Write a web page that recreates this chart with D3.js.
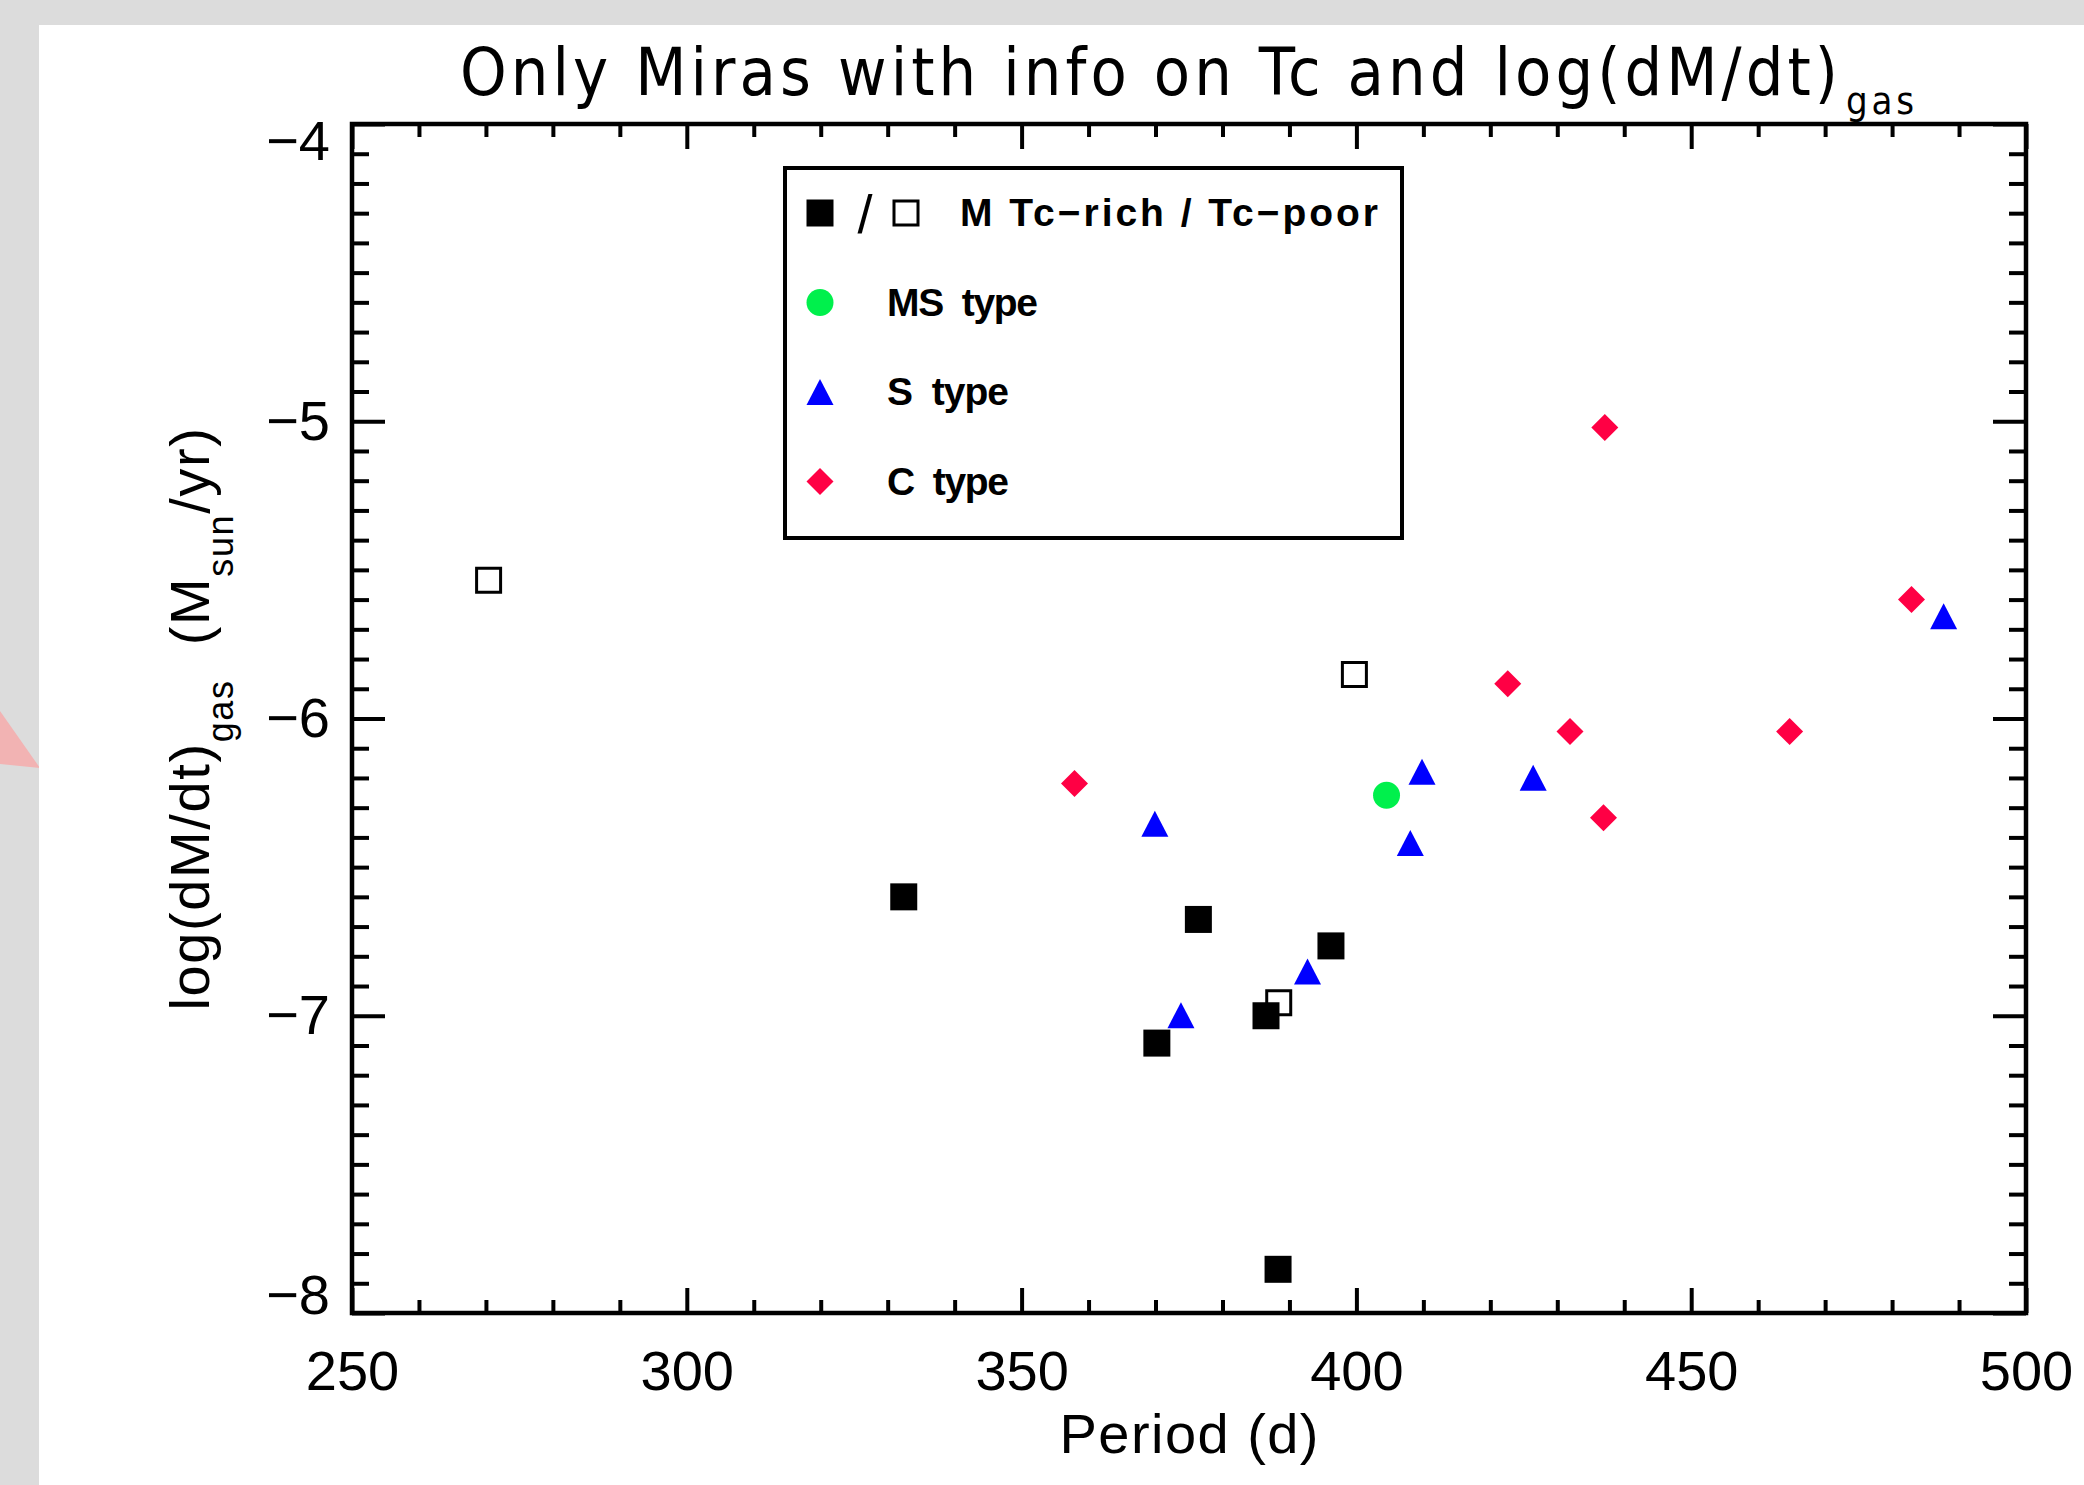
<!DOCTYPE html>
<html>
<head>
<meta charset="utf-8">
<script src="https://cdn.jsdelivr.net/npm/d3@7"></script>
<style>
  html, body { margin: 0; padding: 0; background: #dcdcdc; }
  svg { display: block; }
</style>
</head>
<body>
<svg id="chart" width="2084" height="1485"></svg>
<script>
// M stars, Tc-rich (filled squares) / Tc-poor (open squares)
const mRichPeriod = [332.4, 376.4, 396.2, 386.5, 370.2, 388.3];
const mRichMdot   = [-6.600, -6.676, -6.765, -7.000, -7.092, -7.853];
const mPoorPeriod = [270.4, 399.7, 388.4];
const mPoorMdot   = [-5.535, -5.852, -6.956];
// MS type
const msPeriod = [404.5];
const msMdot   = [-6.258];
// S type
const sPeriod = [369.9, 373.8, 392.7, 409.8, 408.05, 426.4, 487.7];
const sMdot   = [-6.354, -6.998, -6.851, -6.179, -6.419, -6.199, -5.656];
// C type
const cPeriod = [357.9, 422.6, 431.9, 437.1, 436.9, 464.7, 482.9];
const cMdot   = [-6.219, -5.883, -6.044, -5.021, -6.334, -6.044, -5.600];

const xMajorTicks = [250, 300, 350, 400, 450, 500];
const yMajorTicks = [-8, -7, -6, -5, -4];
const legendLabels = ["M Tc\u2212rich / Tc\u2212poor", "MS  type", "S  type", "C  type"];

(function() {
    const svg = d3.select("#chart");
    const left = 352, right = 2026, top = 124, bottom = 1313;

    const x = d3.scaleLinear().domain([250, 500]).range([left, right]);
    const y = d3.scaleLinear().domain([-8, -4]).range([bottom, top]);

    const green = "#00f04c", blue = "#0000ff", red = "#ff0044";

    // page background: grey with a white panel, and the pink wedge at the left
    svg.append("rect").attr("width", 2084).attr("height", 1485).attr("fill", "#dcdcdc");
    svg.append("polygon").attr("points", "0,711 0,764 40,768").attr("fill", "#f2b3b3");
    svg.append("rect").attr("x", 39).attr("y", 25).attr("width", 2084 - 39).attr("height", 1485 - 25).attr("fill", "#fff");

    const xMinorTicks = d3.range(250, 501, 10).filter(v => v % 50 !== 0);
    const yMinorTicks = d3.range(-80, -39).map(v => v / 10).filter(v => !Number.isInteger(v));

    function styleAxis(g) {
        g.attr("font-family", null).attr("font-size", null);
        g.select(".domain").remove();
        g.selectAll(".tick line").attr("stroke", "#000").attr("stroke-width", 4);
    }

    // bottom
    svg.append("g").attr("transform", `translate(0,${bottom})`)
        .call(d3.axisBottom(x).tickValues(xMinorTicks).tickSize(-13).tickFormat(""))
        .call(styleAxis);
    svg.append("g").attr("transform", `translate(0,${bottom})`)
        .call(d3.axisBottom(x).tickValues(xMajorTicks).tickSize(-25).tickPadding(37).tickFormat(d3.format("d")))
        .call(styleAxis)
        .selectAll("text").attr("font-family", "'Liberation Sans', Arial, sans-serif").attr("font-size", 56).attr("fill", "#000");
    // top
    svg.append("g").attr("transform", `translate(0,${top})`)
        .call(d3.axisTop(x).tickValues(xMinorTicks).tickSize(-13).tickFormat(""))
        .call(styleAxis);
    svg.append("g").attr("transform", `translate(0,${top})`)
        .call(d3.axisTop(x).tickValues(xMajorTicks).tickSize(-25).tickFormat(""))
        .call(styleAxis);
    // left
    svg.append("g").attr("transform", `translate(${left},0)`)
        .call(d3.axisLeft(y).tickValues(yMinorTicks).tickSize(-17).tickFormat(""))
        .call(styleAxis);
    svg.append("g").attr("transform", `translate(${left},0)`)
        .call(d3.axisLeft(y).tickValues(yMajorTicks).tickSize(-33).tickPadding(22).tickFormat(d => "\u2212" + Math.abs(d)))
        .call(styleAxis)
        .selectAll("text")
        .attr("font-family", "'Liberation Sans', Arial, sans-serif").attr("font-size", 56).attr("fill", "#000")
        .attr("y", d => d === -4 ? 18 : (d === -8 ? -17 : 0));
    // right
    svg.append("g").attr("transform", `translate(${right},0)`)
        .call(d3.axisRight(y).tickValues(yMinorTicks).tickSize(-17).tickFormat(""))
        .call(styleAxis);
    svg.append("g").attr("transform", `translate(${right},0)`)
        .call(d3.axisRight(y).tickValues(yMajorTicks).tickSize(-33).tickFormat(""))
        .call(styleAxis);

    // frame
    svg.append("rect")
        .attr("x", left).attr("y", top)
        .attr("width", right - left).attr("height", bottom - top)
        .attr("fill", "none").attr("stroke", "#000").attr("stroke-width", 4.5);

    // titles
    svg.append("text")
        .attr("x", 460).attr("y", 95)
        .attr("font-family", "'Liberation Sans Narrow', 'DejaVu Sans Condensed', 'Liberation Sans', sans-serif")
        .attr("font-size", 66)
        .attr("textLength", 1378).attr("lengthAdjust", "spacing")
        .text("Only Miras with info on Tc and log(dM/dt)");
    svg.append("text")
        .attr("x", 1846).attr("y", 114)
        .attr("font-family", "'Liberation Sans Narrow', 'DejaVu Sans Condensed', 'Liberation Sans', sans-serif")
        .attr("font-size", 38)
        .attr("textLength", 68).attr("lengthAdjust", "spacing")
        .text("gas");

    svg.append("text")
        .attr("x", (left + right) / 2).attr("y", 1453)
        .attr("text-anchor", "middle")
        .attr("font-family", "'Liberation Sans', Arial, sans-serif")
        .attr("font-size", 56)
        .attr("textLength", 259).attr("lengthAdjust", "spacing")
        .text("Period (d)");

    const yt = svg.append("text")
        .attr("transform", `translate(209,${(top + bottom) / 2}) rotate(-90)`)
        .attr("text-anchor", "middle")
        .attr("font-family", "'Liberation Sans', Arial, sans-serif")
        .attr("font-size", 56)
        .style("letter-spacing", "1.6px");
    yt.append("tspan").text("log(dM/dt)");
    yt.append("tspan").attr("font-size", 36).attr("dy", 24).text("gas");
    yt.append("tspan").attr("dy", -24).text("\u00a0\u00a0(M");
    yt.append("tspan").attr("font-size", 36).attr("dy", 24).text("sun");
    yt.append("tspan").attr("dy", -24).text("/yr)");

    // marker shapes
    const sq = 27;
    const squarePath = d3.symbol().type(d3.symbolSquare).size(sq * sq)();
    const openSquarePath = d3.symbol().type(d3.symbolSquare).size((sq - 3) * (sq - 3))();
    const circlePath = d3.symbol().type(d3.symbolCircle).size(Math.PI * 13.5 * 13.5)();
    const trianglePath = (w, h) => `M0,${-h / 2}L${w / 2},${h / 2}L${-w / 2},${h / 2}Z`;
    const diamondPath = d3.symbol().type(d3.symbolSquare).size((sq * sq) / 2)();

    function drawSeries(px, py, draw) {
        const pts = px.map((p, i) => ({ p: p, m: py[i] }));
        const sel = svg.append("g").selectAll("path")
            .data(pts).join("path")
            .attr("transform", d => `translate(${x(d.p)},${y(d.m)})`);
        draw(sel);
    }

    drawSeries(mPoorPeriod, mPoorMdot, s => s.attr("d", openSquarePath).attr("fill", "none").attr("stroke", "#000").attr("stroke-width", 3));
    drawSeries(mRichPeriod, mRichMdot, s => s.attr("d", squarePath).attr("fill", "#000"));
    drawSeries(msPeriod, msMdot, s => s.attr("d", circlePath).attr("fill", green));
    drawSeries(sPeriod, sMdot, s => s.attr("d", trianglePath(27, 26)).attr("fill", blue));
    drawSeries(cPeriod, cMdot, s => s.attr("d", diamondPath).attr("fill", red)
        .attr("transform", d => `translate(${x(d.p)},${y(d.m)}) rotate(45)`));

    // legend
    const lg = svg.append("g");
    lg.append("rect")
        .attr("x", 785).attr("y", 168).attr("width", 617).attr("height", 370)
        .attr("fill", "#fff").attr("stroke", "#000").attr("stroke-width", 4);

    const rowY = i => 213 + i * 89.5;
    const symX = 820;
    lg.append("path").attr("d", squarePath).attr("fill", "#000").attr("transform", `translate(${symX},${rowY(0)})`);
    lg.append("text").attr("x", 865).attr("y", rowY(0) + 20).attr("text-anchor", "middle")
        .attr("font-family", "'Liberation Sans', Arial, sans-serif").attr("font-size", 54).text("/");
    lg.append("path").attr("d", openSquarePath).attr("fill", "none").attr("stroke", "#000").attr("stroke-width", 3)
        .attr("transform", `translate(906,${rowY(0)})`);
    lg.append("path").attr("d", circlePath).attr("fill", green).attr("transform", `translate(${symX},${rowY(1)})`);
    lg.append("path").attr("d", trianglePath(27, 26)).attr("fill", blue).attr("transform", `translate(${symX},${rowY(2)})`);
    lg.append("path").attr("d", diamondPath).attr("fill", red).attr("transform", `translate(${symX},${rowY(3)}) rotate(45)`);

    const legendX = [960, 887, 887, 887];
    const legendW = [418, 151, 122, 122];
    lg.selectAll("text.lab")
        .data(legendLabels).join("text")
        .attr("class", "lab")
        .attr("x", (d, i) => legendX[i])
        .attr("y", (d, i) => rowY(i) + 13)
        .attr("font-family", "'Liberation Sans', Arial, sans-serif")
        .attr("font-weight", "bold")
        .attr("font-size", 39)
        .attr("textLength", (d, i) => legendW[i]).attr("lengthAdjust", "spacing")
        .style("white-space", "pre")
        .text(d => d);
})();
</script>
</body>
</html>
